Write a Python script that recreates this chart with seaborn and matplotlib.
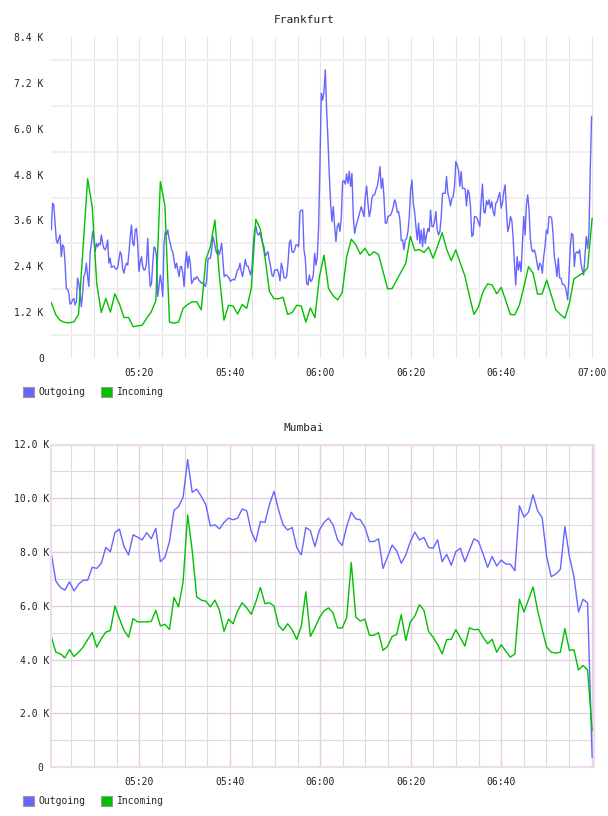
import matplotlib
matplotlib.use('Agg')
import matplotlib.pyplot as plt
import matplotlib.dates as mdates
import matplotlib.transforms as mtransforms
from matplotlib.patches import Patch
from matplotlib.ticker import FixedLocator, FuncFormatter
import numpy as np
import pandas as pd
import seaborn as sns

# values in K; times are minutes after 05:00
fra_out_a = [3.35, 4.05, 4.01, 3.53, 3.09, 3.00, 3.13, 3.22, 2.65, 2.96,
             2.91, 2.48, 1.82, 1.80, 1.69, 1.41, 1.43, 1.52, 1.56, 1.39,
             1.47, 2.09, 1.95, 1.69, 1.34, 1.69, 2.13, 2.22, 2.48, 2.13,
             1.87, 2.74, 3.00, 3.31, 3.13, 2.78, 3.00, 2.91, 3.00, 2.96,
             3.22, 3.00, 2.87, 2.83, 2.91, 3.09, 2.48, 2.61, 2.37, 2.39,
             2.41, 2.35, 2.32, 2.37, 2.57, 2.78, 2.70, 2.32, 2.22, 2.39,
             2.48, 2.43, 2.74, 3.18, 3.48, 3.00, 2.94, 3.35, 3.39, 3.00,
             2.26, 2.52, 2.65, 2.39, 2.30, 2.32, 2.48, 3.13, 2.35, 1.87,
             1.95, 2.48, 2.91, 2.87, 2.65, 1.61, 1.87, 2.17, 1.95, 1.61,
             3.00, 3.31, 3.22, 3.35, 3.13, 3.00, 2.83, 2.78, 2.57, 2.35,
             2.48, 2.30, 2.13, 2.39, 2.39, 2.22, 1.87, 2.48, 2.78, 2.35,
             2.67, 2.48, 1.95, 2.00, 2.09, 2.06, 2.13, 2.09, 2.02, 2.00,
             1.95, 1.97, 1.93, 1.87, 2.02, 2.57, 2.61, 2.61, 2.83, 3.18,
             3.05, 2.87, 2.74, 2.84, 2.70, 2.83, 3.00, 2.57, 2.13, 2.17,
             2.17, 2.13, 2.09, 2.00, 2.04]
fra_out_b = [2.04, 2.06, 2.04, 2.15, 2.30, 2.32, 2.48, 2.26, 2.13, 2.35,
             2.58, 2.41, 2.41, 2.29, 2.17, 2.35, 3.00, 3.35, 3.44, 3.25,
             3.22, 3.29, 3.13, 3.00, 2.91, 2.67, 2.72, 2.78, 2.57, 2.39,
             2.17, 2.13, 2.30, 2.30, 2.32, 2.22, 2.02, 2.48, 2.35, 2.11,
             2.09, 2.13, 2.48, 3.00, 3.09, 2.78, 2.76, 2.83, 2.96, 2.96,
             2.91, 3.83, 3.87, 3.87, 2.83, 2.61, 1.95, 1.91, 2.17, 2.00,
             2.04, 2.17, 2.74, 2.43, 2.65, 3.44, 5.10, 6.93, 6.75, 6.97,
             7.54, 6.49, 5.71, 4.79, 4.05, 3.57, 3.96, 3.44, 3.05, 3.44,
             3.53, 3.31, 3.70, 4.62, 4.64, 4.55, 4.82, 4.57, 4.88, 4.49,
             4.83, 3.70, 3.26, 3.44, 3.57, 3.70, 3.83, 3.96, 3.83, 3.70,
             4.22, 4.50, 4.05, 3.70, 3.87, 4.18, 4.27, 4.27, 4.40, 4.49,
             4.70, 5.01, 4.44, 4.70, 4.22, 3.53, 3.53, 3.70, 3.72, 3.74,
             3.83, 3.96, 4.14, 4.05, 3.81, 3.83, 3.61, 3.07, 3.09, 2.83,
             3.09, 3.13, 3.31, 3.70, 4.40, 4.66]
fra_out_c = [4.05, 3.83, 3.44, 3.09, 3.53, 3.00, 3.35, 2.91, 3.39, 3.00,
             3.22, 3.39, 3.31, 3.87, 3.44, 3.44, 3.57, 3.83, 3.35, 3.22,
             3.31, 3.70, 4.31, 4.31, 4.31, 4.75, 4.31, 4.18, 3.98, 4.18,
             4.22, 4.49, 5.14, 5.05, 4.92, 4.49, 4.88, 4.44, 4.44, 4.42,
             3.98, 4.40, 4.31, 3.96, 3.18, 3.22, 3.70, 3.70, 3.66, 3.54,
             3.44, 4.09, 4.55, 3.83, 3.79, 4.12, 4.01, 4.14, 3.92, 4.09,
             3.83, 3.72, 4.05, 4.09, 4.22, 4.33, 3.92, 4.05, 4.35, 4.53,
             3.87, 3.31, 3.44, 3.70, 3.61, 3.18, 2.48, 1.91, 2.65, 2.30,
             2.52, 2.26, 3.00, 3.70, 3.22, 4.01, 4.27, 3.87, 3.13, 2.83,
             2.78, 2.83, 2.70, 2.48, 2.30, 2.48, 2.43, 2.22, 2.65, 2.91,
             3.35, 3.26, 3.70, 3.70, 3.66, 3.26, 2.65, 2.43, 2.13, 2.61,
             2.09, 2.09, 1.93, 1.93, 1.88, 1.74, 1.52, 2.13, 2.91, 3.26,
             3.22, 2.39, 2.74, 2.78, 2.74, 2.83, 2.48, 2.30, 2.17, 2.65,
             3.18, 2.87, 3.26, 4.92, 6.32]
fra_out_spans = [(0.55, 40.42), (40.49, 80.27), (80.56, 119.98)]

fra_in = [1.45, 1.13, 0.98, 0.93, 0.92, 0.95, 1.14, 2.90, 4.69, 3.96,
          1.95, 1.19, 1.56, 1.20, 1.68, 1.41, 1.06, 1.06, 0.82, 0.84,
          0.86, 1.04, 1.21, 1.50, 4.62, 3.98, 0.94, 0.91, 0.94, 1.30,
          1.40, 1.47, 1.47, 1.26, 2.57, 2.91, 3.61, 2.13, 0.99, 1.38,
          1.36, 1.15, 1.40, 1.30, 1.82, 3.63, 3.37, 2.65, 1.74, 1.55,
          1.55, 1.59, 1.14, 1.19, 1.38, 1.36, 0.94, 1.31, 1.06, 2.13,
          2.69, 1.82, 1.63, 1.52, 1.71, 2.65, 3.11, 2.96, 2.72, 2.87,
          2.68, 2.78, 2.71, 2.26, 1.81, 1.82, 2.04, 2.26, 2.48, 3.18,
          2.81, 2.84, 2.76, 2.90, 2.61, 2.93, 3.28, 2.84, 2.55, 2.83,
          2.48, 2.15, 1.62, 1.14, 1.34, 1.74, 1.94, 1.91, 1.68, 1.85,
          1.50, 1.14, 1.13, 1.39, 1.87, 2.39, 2.22, 1.67, 1.68, 2.04,
          1.65, 1.26, 1.14, 1.04, 1.43, 2.07, 2.15, 2.23, 2.36, 3.66]

mum_out = [7.95, 6.92, 6.68, 6.58, 6.89, 6.55, 6.80, 6.95, 6.95, 7.43,
           7.39, 7.58, 8.17, 8.01, 8.72, 8.85, 8.20, 7.89, 8.64, 8.55,
           8.45, 8.72, 8.49, 8.88, 7.64, 7.80, 8.39, 9.55, 9.69, 10.04,
           11.44, 10.22, 10.34, 10.07, 9.76, 8.97, 9.01, 8.86, 9.10, 9.26,
           9.20, 9.26, 9.60, 9.53, 8.76, 8.39, 9.13, 9.10, 9.76, 10.26,
           9.57, 9.01, 8.82, 8.91, 8.17, 7.89, 8.91, 8.80, 8.20, 8.82,
           9.10, 9.26, 9.01, 8.45, 8.24, 8.95, 9.48, 9.23, 9.20, 8.92,
           8.39, 8.39, 8.49, 7.39, 7.83, 8.26, 8.04, 7.58, 7.89, 8.39,
           8.74, 8.45, 8.54, 8.17, 8.14, 8.45, 7.64, 7.91, 7.51, 8.01,
           8.14, 7.64, 8.07, 8.49, 8.39, 7.93, 7.43, 7.83, 7.48, 7.70,
           7.55, 7.55, 7.30, 9.72, 9.30, 9.48, 10.13, 9.53, 9.28, 7.83,
           7.08, 7.18, 7.35, 8.95, 7.83, 7.08, 5.77, 6.24, 6.11, 0.35]
mum_in = [4.86, 4.27, 4.21, 4.06, 4.37, 4.11, 4.27, 4.46, 4.74, 5.00,
          4.46, 4.77, 5.02, 5.08, 5.99, 5.52, 5.08, 4.83, 5.52, 5.40,
          5.40, 5.40, 5.42, 5.83, 5.25, 5.31, 5.12, 6.31, 5.96, 6.89,
          9.38, 8.07, 6.33, 6.21, 6.17, 5.96, 6.21, 5.83, 5.05, 5.50,
          5.33, 5.81, 6.11, 5.92, 5.68, 6.14, 6.68, 6.08, 6.11, 5.99,
          5.27, 5.08, 5.33, 5.11, 4.75, 5.23, 6.52, 4.86, 5.18, 5.56,
          5.81, 5.92, 5.73, 5.18, 5.17, 5.56, 7.61, 5.58, 5.43, 5.50,
          4.90, 4.90, 5.00, 4.34, 4.49, 4.86, 4.93, 5.67, 4.71, 5.40,
          5.62, 6.04, 5.83, 5.05, 4.83, 4.56, 4.21, 4.74, 4.75, 5.11,
          4.81, 4.50, 5.18, 5.11, 5.12, 4.83, 4.59, 4.75, 4.27, 4.55,
          4.31, 4.09, 4.21, 6.24, 5.77, 6.23, 6.70, 5.83, 5.12, 4.46,
          4.27, 4.24, 4.27, 5.15, 4.34, 4.36, 3.61, 3.78, 3.61, 1.35]
minute_span = (0.55, 120.1)

series_names = ['Outgoing', 'Incoming']
BLUE = '#6666ff'
GREEN = '#00c000'
palette = {'Outgoing': BLUE, 'Incoming': GREEN}

base = pd.Timestamp('2000-01-01 05:00')


def stamps(minutes):
    return base + pd.to_timedelta(np.asarray(minutes), unit='m')


def long_frame(parts):
    rows = []
    for name, minutes, vals in parts:
        rows.append(pd.DataFrame({'time': stamps(minutes),
                                  'value': np.asarray(vals) * 1000,
                                  'series': name}))
    return pd.concat(rows, ignore_index=True)


fra_parts = []
for vals, (a, b) in zip([fra_out_a, fra_out_b, fra_out_c], fra_out_spans):
    fra_parts.append(('Outgoing', np.linspace(a, b, len(vals)), vals))
fra_df = long_frame(fra_parts + [('Incoming', np.linspace(*minute_span, len(fra_in)), fra_in)])
mum_df = long_frame([('Outgoing', np.linspace(*minute_span, len(mum_out)), mum_out),
                     ('Incoming', np.linspace(*minute_span, len(mum_in)), mum_in)])

sns.set_style('white')
plt.rcParams['font.family'] = ['DejaVu Sans Mono']

W, H = 608, 816
fig = plt.figure(figsize=(W / 100, H / 100), dpi=100)


def px_axes(left, top, right, bottom):
    return fig.add_axes([left / W, 1 - bottom / H, (right - left) / W, (bottom - top) / H])


ax1 = px_axes(50.7, 37, 593.5, 358)
ax2 = px_axes(50.7, 444.5, 593.5, 767)

for ax, df in [(ax1, fra_df), (ax2, mum_df)]:
    sns.lineplot(data=df, x='time', y='value', hue='series', hue_order=series_names,
                 palette=palette, estimator=None, sort=False, linewidth=1.0,
                 legend=False, ax=ax)
    ax.set_xlim(stamps([0.42, 120.4]))
    ax.set_xlabel('')
    ax.set_ylabel('')
    ax.set_axisbelow(True)
    ax.xaxis.set_major_locator(mdates.MinuteLocator(byminute=[0, 20, 40]))
    ax.xaxis.set_minor_locator(mdates.MinuteLocator(byminute=range(0, 60, 5)))
    ax.tick_params(which='both', length=0, labelsize=7, colors='#222222')
    ax.tick_params(axis='x', pad=7)


def k_label(v, pos):
    return '0' if v == 0 else f'{v / 1000:.1f} K'


# Frankfurt: labels every 1.2K, light grid lines halfway between them
ax1.set_ylim(0, 8400)
ax1.yaxis.set_major_locator(FixedLocator(np.arange(0, 8401, 1200)))
ax1.yaxis.set_minor_locator(FixedLocator(np.arange(600, 8400, 1200)))
ax1.yaxis.set_major_formatter(FuncFormatter(k_label))
ax1.yaxis.grid(True, which='minor', color='#efefef', linewidth=1.5)
ax1.yaxis.grid(False, which='major')
ax1.xaxis.grid(True, which='both', color='#e3e3e3', linewidth=0.8)
ax1.xaxis.set_major_formatter(mdates.DateFormatter('%H:%M'))
ax1.tick_params(axis='y', pad=5)
for s in ax1.spines.values():
    s.set_visible(False)

# Mumbai: pink major grid, grey minor grid, pink frame
ax2.set_ylim(0, 12000)
ax2.yaxis.set_major_locator(FixedLocator(np.arange(0, 12001, 2000)))
ax2.yaxis.set_minor_locator(FixedLocator(np.arange(1000, 12000, 2000)))
ax2.yaxis.set_major_formatter(FuncFormatter(k_label))
ax2.grid(True, which='major', color='#e4cce4', linewidth=1.0)
ax2.grid(True, which='minor', color='#dcdcdc', linewidth=0.8)
ax2.xaxis.set_major_formatter(FuncFormatter(
    lambda v, pos: '' if mdates.num2date(v).hour == 7 else mdates.num2date(v).strftime('%H:%M')))
ax2.tick_params(axis='y', pad=0.8)
for s in ax2.spines.values():
    s.set_visible(True)
    s.set_color('#ecdcec')
    s.set_linewidth(1.5)

fig.canvas.draw()
for lab in ax2.get_yticklabels():
    if lab.get_text() == '0':
        lab.set_transform(lab.get_transform() + mtransforms.ScaledTranslation(-6 / 100, 0, fig.dpi_scale_trans))

fig.text(304 / W, 1 - 20 / H, 'Frankfurt', ha='center', va='center', fontsize=8, color='#222222')
fig.text(304 / W, 1 - 428 / H, 'Mumbai', ha='center', va='center', fontsize=8, color='#222222')

handles = [Patch(facecolor=palette[n], edgecolor='#999999', linewidth=0.8, label=n) for n in series_names]
for y in [392, 801]:
    fig.legend(handles=handles, loc='center left', bbox_to_anchor=(23 / W, 1 - y / H),
               ncol=2, frameon=False, fontsize=7, handlelength=1.15, handleheight=1.15,
               handletextpad=0.45, columnspacing=1.6, borderpad=0, borderaxespad=0)

fig.savefig('out.png', dpi=100)
